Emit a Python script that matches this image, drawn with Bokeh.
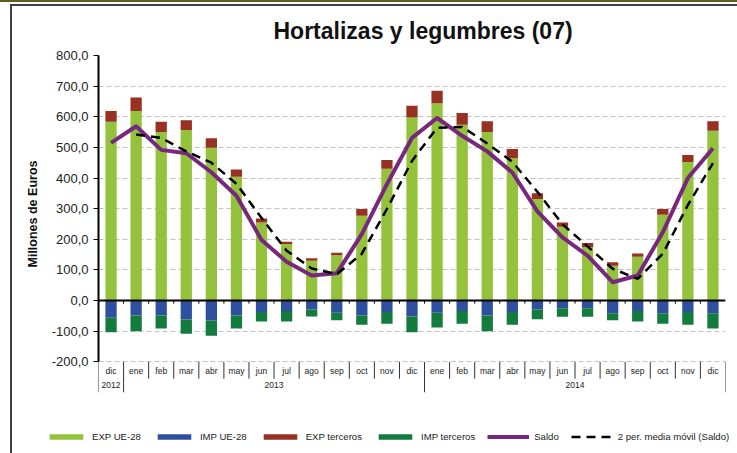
from bokeh.plotting import figure
from bokeh.layouts import column
from bokeh.models import (FactorRange, Range1d, FixedTicker, Span, Legend,
                          LegendItem, ColumnDataSource, Title)
from bokeh.core.properties import value
from bokeh.embed import file_html
from bokeh.resources import INLINE

# ---------------- data ----------------
years = ["2012"] + ["2013"] * 12 + ["2014"] * 12
months = ["dic", "ene", "feb", "mar", "abr", "may", "jun", "jul", "ago", "sep", "oct", "nov", "dic",
          "ene", "feb", "mar", "abr", "may", "jun", "jul", "ago", "sep", "oct", "nov", "dic"]
year_labels = ["2012", "2013", "2014"]

exp_ue = [584, 619, 550, 557, 499, 404, 255, 185, 130, 148, 277, 430, 598,
          644, 574, 550, 465, 332, 241, 174, 114, 143, 280, 452, 554]
exp_terceros = [35, 44, 34, 32, 31, 24, 13, 7, 8, 8, 22, 29, 38,
                41, 38, 35, 30, 18, 14, 14, 11, 11, 19, 23, 31]
imp_ue = [-56, -49, -49, -62, -65, -49, -37, -34, -29, -40, -49, -37, -52,
          -40, -34, -49, -37, -29, -25, -25, -41, -34, -41, -37, -41]
imp_terceros = [-47, -51, -42, -46, -50, -42, -31, -34, -23, -24, -30, -39, -51,
                -48, -42, -51, -42, -32, -28, -28, -23, -34, -35, -42, -50]
saldo = [515, 569, 492, 481, 419, 342, 198, 127, 82, 89, 217, 380, 531,
         596, 538, 487, 418, 291, 206, 147, 60, 82, 223, 400, 497]
# 2 per. media movil (Saldo), from ene 2013
media_movil = [542, 531, 487, 450, 381, 270, 163, 105, 86, 153, 299, 456,
               564, 567, 513, 453, 355, 249, 177, 104, 71, 153, 312, 449]

y_ticks = [-200, -100, 0, 100, 200, 300, 400, 500, 600, 700, 800]
y_tick_labels = ["-200,0", "-100,0", "0,0", "100,0", "200,0", "300,0", "400,0",
                 "500,0", "600,0", "700,0", "800,0"]

series_names = ["EXP UE-28", "IMP UE-28", "EXP terceros", "IMP terceros",
                "Saldo", "2 per. media móvil (Saldo)"]

# ---------------- styling ----------------
FONT = "Liberation Sans"
C_EXP_UE = "#95c23d"
C_IMP_UE = "#2f4f9f"
C_EXP_T = "#973222"
C_IMP_T = "#137b3d"
C_SALDO = "#77287c"
BORDER = "#404040"
BW = 0.45

factors = list(zip(years, months))
xr = FactorRange(factors=factors, factor_padding=0, group_padding=0,
                 subgroup_padding=0, range_padding=0)
src = ColumnDataSource(dict(x=factors, exp_ue=exp_ue, exp_terceros=exp_terceros,
                            imp_ue=imp_ue, imp_terceros=imp_terceros))


def draw_series(fig):
    pos = fig.vbar_stack(["exp_ue", "exp_terceros"], x="x", width=BW, source=src,
                         color=[C_EXP_UE, C_EXP_T], line_color=None)
    neg = fig.vbar_stack(["imp_ue", "imp_terceros"], x="x", width=BW, source=src,
                         color=[C_IMP_UE, C_IMP_T], line_color=None)
    ls = fig.line(x=factors, y=saldo, line_color=C_SALDO, line_width=4, line_join="round")
    lm = fig.line(x=factors[1:], y=media_movil, line_color="black", line_width=2.5,
                  line_dash="9 6")
    return [pos[0], neg[0], pos[1], neg[1], ls, lm]


p = figure(x_range=xr, y_range=Range1d(-300, 800),
           width=737, height=405, output_backend="svg", toolbar_location=None,
           min_border_left=98, min_border_right=12, min_border_top=55, min_border_bottom=13)
p.frame_align = False
p.outline_line_color = None
p.background_fill_alpha = 0
p.border_fill_alpha = 0
p.styles = {
    "background-color": "white",
    "background-image": f"linear-gradient(#5f5f22,#5f5f22), linear-gradient({BORDER},{BORDER}), "
                        f"linear-gradient({BORDER},{BORDER})",
    "background-size": "100% 2px, 100% 2px, 2px 100%",
    "background-position": "0px 0px, 10px 4px, 10px 4px",
    "background-repeat": "no-repeat",
}
p.xaxis.visible = False
p.xgrid.visible = False

p.title.text = "Hortalizas y legumbres (07)"
p.title.align = "left"
p.title.offset = 175
p.title.standoff = 23
p.title.text_font = FONT
p.title.text_font_style = "bold"
p.title.text_font_size = "23px"
p.title.text_color = "#111111"

yax = p.yaxis[0]
yax.ticker = FixedTicker(ticks=y_ticks)
yax.major_label_overrides = {t: l for t, l in zip(y_ticks, y_tick_labels)}
yax.bounds = (-200, 800)
yax.axis_line_width = 2
yax.axis_line_color = "black"
yax.major_tick_out = 5
yax.major_tick_in = 0
yax.minor_tick_line_color = None
yax.major_label_standoff = 5
yax.major_label_text_font = FONT
yax.major_label_text_font_size = "13px"
yax.major_label_text_color = "#222222"

ylabel = Title(text="Millones de Euros", align="left", offset=125,
               text_font=FONT, text_font_style="bold", text_font_size="12.5px",
               text_color="#111111", standoff=18)
p.add_layout(ylabel, "left")

p.ygrid.ticker = FixedTicker(ticks=y_ticks)
p.ygrid.grid_line_color = "#c3c3c3"
p.ygrid.grid_line_dash = "5 3"
p.ygrid.grid_line_width = 1

draw_series(p)

p.add_layout(Span(location=0, dimension="width", line_color="black", line_width=2))

# category separators
inner_bounds = [(years[i], months[i], -0.5) for i in range(1, len(factors))]
month_sep = [b for i, b in enumerate(inner_bounds, start=1) if years[i] == years[i - 1]]
year_sep = [(years[0], months[0], -0.5)] + \
           [b for i, b in enumerate(inner_bounds, start=1) if years[i] != years[i - 1]] + \
           [(years[-1], months[-1], 0.5)]
p.segment(x0=month_sep, x1=month_sep, y0=-200, y1=-255, line_color="#333333", line_width=1)
p.segment(x0=year_sep, x1=year_sep, y0=-200, y1=-300, line_color="#333333", line_width=1)
p.segment(x0=inner_bounds, x1=inner_bounds, y0=0, y1=-10, line_color="black", line_width=1)

p.text(x=factors, y=-231, text=months, text_align="center", text_baseline="middle",
       text_font=value(FONT), text_font_size="8.5px", text_color="#222222")
p.text(x=year_labels, y=-277, text=year_labels, text_align="center", text_baseline="middle",
       text_font=value(FONT), text_font_size="8.5px", text_color="#222222")

# ---------------- legend strip (same series, drawn out of view) ----------------
pl = figure(width=737, height=48, output_backend="svg", toolbar_location=None,
            x_range=xr, y_range=Range1d(5000, 5001),
            x_axis_location=None, y_axis_location=None,
            min_border_left=0, min_border_right=0, min_border_top=0, min_border_bottom=0)
pl.frame_align = False
pl.outline_line_color = None
pl.grid.visible = False
pl.background_fill_alpha = 0
pl.border_fill_alpha = 0
pl.styles = {
    "background-color": "white",
    "background-image": f"linear-gradient({BORDER},{BORDER})",
    "background-size": "2px 100%",
    "background-position": "10px 0px",
    "background-repeat": "no-repeat",
}
leg_renderers = draw_series(pl)

legend = Legend(items=[LegendItem(label=n, renderers=[r]) for n, r in
                       zip(series_names, leg_renderers)],
                location=(45, 11), orientation="horizontal")
legend.glyph_width = 42
legend.glyph_height = 7
legend.label_standoff = 5
legend.spacing = 12
legend.padding = 0
legend.margin = 0
legend.label_height = 12
legend.label_text_font = FONT
legend.label_text_font_size = "9.6px"
legend.label_text_color = "#222222"
legend.border_line_color = None
legend.background_fill_alpha = 0
pl.add_layout(legend)

layout = column(p, pl, spacing=0)
open("out.html", "w").write(file_html(layout, INLINE))
